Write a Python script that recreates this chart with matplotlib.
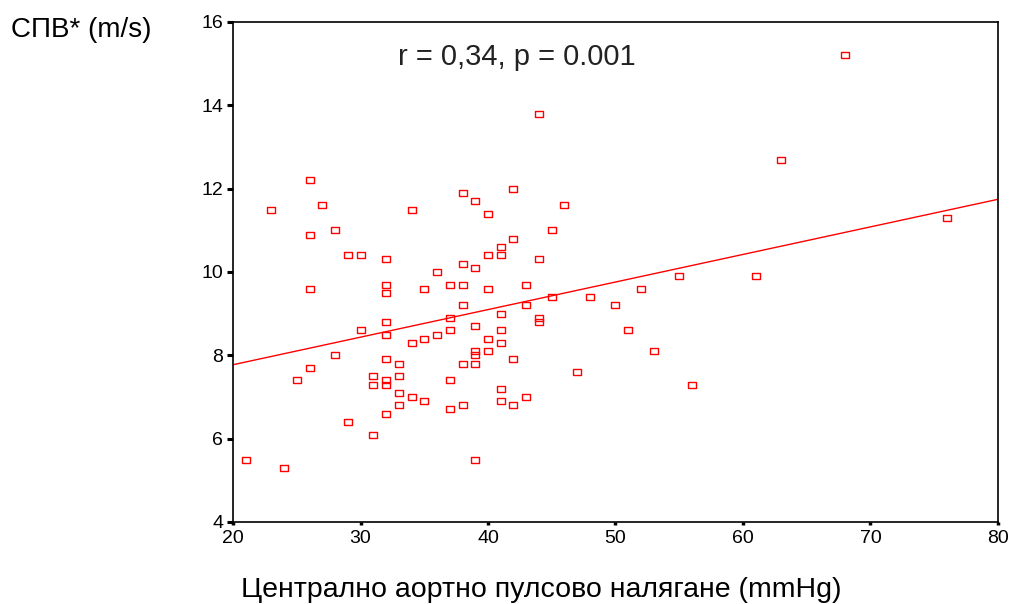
import matplotlib
matplotlib.use('Agg')
import matplotlib.pyplot as plt
import numpy as np

# Централно аортно пулсово налягане (mmHg) vs СПВ (m/s)
pulse_pressure = [
    26, 23, 27, 34, 26, 28, 29, 30, 32, 26, 32, 32, 32, 30, 32, 34, 28, 32, 33, 26,
    25, 31, 31, 32, 32, 33, 33, 34, 33, 32, 29, 31, 21, 24,
    44, 38, 42, 39, 46, 40, 45, 42, 41, 41, 40, 44, 38, 39, 36, 35, 37, 38, 40, 43,
    45, 48, 38, 43, 37, 44, 44, 41, 39, 37, 41, 36, 35, 40, 41, 39, 40, 39, 39, 38,
    42, 47, 37, 41, 35, 38, 37, 41, 42, 43, 39,
    68, 63, 76, 55, 61, 50, 52, 51, 53, 56,
]
pwv = [
    12.2, 11.5, 11.6, 11.5, 10.9, 11.0, 10.4, 10.4, 10.3, 9.6, 9.7, 9.5, 8.8, 8.6, 8.5, 8.3, 8.0, 7.9, 7.8, 7.7,
    7.4, 7.5, 7.3, 7.4, 7.3, 7.5, 7.1, 7.0, 6.8, 6.6, 6.4, 6.1, 5.5, 5.3,
    13.8, 11.9, 12.0, 11.7, 11.6, 11.4, 11.0, 10.8, 10.6, 10.4, 10.4, 10.3, 10.2, 10.1, 10.0, 9.6, 9.7, 9.7, 9.6, 9.7,
    9.4, 9.4, 9.2, 9.2, 8.9, 8.9, 8.8, 9.0, 8.7, 8.6, 8.6, 8.5, 8.4, 8.4, 8.3, 8.1, 8.1, 8.0, 7.8, 7.8,
    7.9, 7.6, 7.4, 7.2, 6.9, 6.8, 6.7, 6.9, 6.8, 7.0, 5.5,
    15.2, 12.7, 11.3, 9.9, 9.9, 9.2, 9.6, 8.6, 8.1, 7.3,
]
x_ticks = [20, 30, 40, 50, 60, 70, 80]
y_ticks = [4, 6, 8, 10, 12, 14, 16]
stats_label = 'r = 0,34, p = 0.001'

plt.rcParams['font.family'] = ['Liberation Sans', 'DejaVu Sans']

fig = plt.figure(figsize=(10.12, 6.04), dpi=100)
ax = fig.add_axes([233 / 1012, 1 - 522 / 604, 765 / 1012, 500 / 604])

# slightly wide hollow rectangle markers, like the SPSS output
rect = [(-1, -0.8), (1, -0.8), (1, 0.8), (-1, 0.8), (-1, -0.8)]
ax.plot(pulse_pressure, pwv, linestyle='none', marker=rect, markersize=5.5,
        markerfacecolor='none', markeredgecolor='#ff0000', markeredgewidth=1.0)

# linear fit line across the whole x range
slope, intercept = np.polyfit(pulse_pressure, pwv, 1)
xs = np.array([x_ticks[0], x_ticks[-1]])
ax.plot(xs, slope * xs + intercept, color='#ff0000', linewidth=1.0)

ax.set_xlim(x_ticks[0], x_ticks[-1])
ax.set_ylim(y_ticks[0], y_ticks[-1])
ax.set_xticks(x_ticks)
ax.set_yticks(y_ticks)
for s in ax.spines.values():
    s.set_linewidth(1.2)
    s.set_color('black')

ax.tick_params(axis='y', direction='out', length=4, width=2.2, pad=3, labelsize=14)
ax.tick_params(axis='x', direction='out', length=2.5, width=2.5, pad=3, labelsize=14)

ax.text(0.371, 0.93, stats_label, transform=ax.transAxes, ha='center', va='center',
        fontsize=21, color='#222222')

fig.text(11 / 1012, 1 - 30 / 604, 'СПВ* (m/s)', ha='left', va='center', fontsize=20)
fig.text(541 / 1012, 1 - 590 / 604, 'Централно аортно пулсово налягане (mmHg)',
         ha='center', va='center', fontsize=20.5)

plt.savefig('out.png', dpi=100, facecolor='white')
